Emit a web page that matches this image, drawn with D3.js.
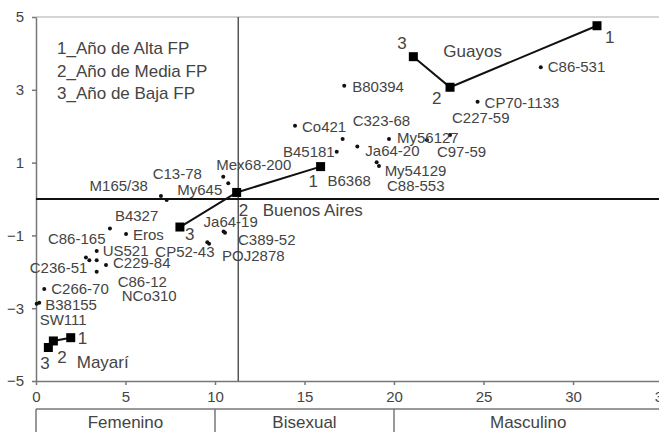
<!DOCTYPE html>
<html>
<head>
<meta charset="utf-8">
<script src="https://cdn.jsdelivr.net/npm/d3@7"></script>
<style>
  html, body { margin: 0; padding: 0; background: #fff; }
  svg { display: block; font-family: "Liberation Sans", Arial, sans-serif; }
</style>
</head>
<body>
<svg id="chart" width="659" height="432"></svg>
<script>
// Cultivars (small dots)
const cultivarNames = ["C86-531","CP70-1133","C227-59","My56127","C97-59","B80394","Co421","C323-68",
  "B45181","Ja64-20","My54129","C88-553","B6368","Mex68-200","My645","M165/38","C13-78","Ja64-19",
  "C389-52","CP52-43","POJ2878","B4327","Eros","C86-165","C236-51","US521","C229-84","C86-12",
  "NCo310","C266-70","B38155","SW111"];
const cultivarX = [28.2,24.67,23.13,19.72,21.84,17.22,14.47,17.13,16.8,17.95,19.03,19.16,15.95,10.46,10.74,
  6.98,7.3,10.48,10.56,9.57,9.67,4.13,5.03,2.79,2.98,3.39,3.91,3.39,3.39,0.46,0.18,0.04];
const cultivarY = [3.62,2.67,1.76,1.65,1.62,3.11,2.01,1.65,1.30,1.44,1.01,0.91,0.88,0.61,0.43,
  0.08,-0.03,-0.89,-0.93,-1.19,-1.23,-0.81,-0.96,-1.61,-1.68,-1.43,-1.81,-2.0,-1.68,-2.47,-2.85,-2.88];

// Locations: years of high (1), medium (2) and low (3) FP
const locationNames = ["Guayos","Buenos Aires","Mayarí"];
const locationX = [[31.34,23.13,21.08],[15.9,11.21,8.04],[1.94,0.97,0.69]];
const locationY = [[4.76,3.07,3.91],[0.89,0.18,-0.77],[-3.81,-3.90,-4.08]];
const yearLabels = ["1","2","3"];

const legendLines = ["1_Año de Alta FP","2_Año de Media FP","3_Año de Baja FP"];
const xTicks = [0,5,10,15,20,25,30,35];
const yTicks = [-5,-3,-1,1,3,5];
const dividerX = 11.3;
const categoryNames = ["Femenino","Bisexual","Masculino"];
const categoryBounds = [0,10,20,35];

// label placement (pixel offsets from the mark, anchor)
const cultivarLabelPos = {
  "C86-531":[7,5,"start"], "CP70-1133":[7,6,"start"], "C227-59":[2,-12,"start"],
  "My56127":[8,4,"start"], "C97-59":[10,17,"start"], "B80394":[8,6,"start"],
  "Co421":[7,6,"start"], "C323-68":[10,-13,"start"], "B45181":[-2,5,"end"],
  "Ja64-20":[8,9,"start"], "My54129":[8,14,"start"], "C88-553":[8,25,"start"],
  "B6368":[6,19,"start"], "Mex68-200":[-7,-7,"start"], "My645":[-6,12,"end"],
  "M165/38":[-13,-5,"end"], "C13-78":[-14,-21,"start"], "Ja64-19":[-20,-4,"start"],
  "C389-52":[13,12,"start"], "CP52-43":[-52,15,"start"], "POJ2878":[13,17,"start"],
  "B4327":[5,-7,"start"], "Eros":[7,6,"start"], "C86-165":[-38,-14,"start"],
  "C236-51":[-2,13,"end"], "US521":[6,5,"start"], "C229-84":[7,3,"start"],
  "C86-12":[21,15,"start"], "NCo310":[25,41,"start"], "C266-70":[7,5,"start"],
  "B38155":[6,7,"start"], "SW111":[3,21,"start"]
};
const yearLabelPos = [
  [[8,17],[-18,17],[-16,-8]],
  [[-12,20],[2,24],[5,13]],
  [[7,6],[4,22],[-8,21]]
];
const locationLabelPos = [[2,30,0],[1,26,24],[0,6,30]]; // [point index, dx, dy]

const svg = d3.select("#chart");
const x = d3.scaleLinear().domain([0,35]).range([36,662.5]);
const y = d3.scaleLinear().domain([-5,5]).range([381,17]);
const textColor = "#444";
const lineGrey = "#777";

// frame: top border
svg.append("line").attr("x1", x(0)).attr("x2", 659).attr("y1", y(5)).attr("y2", y(5))
  .attr("stroke", "#aaa").attr("stroke-width", 1.2);

// bottom axis
const xAxis = svg.append("g").attr("transform", `translate(0,${y(-5)})`)
  .call(d3.axisBottom(x).tickValues(xTicks).tickSize(4).tickSizeOuter(0).tickFormat(d3.format("d")));
xAxis.select(".domain").attr("stroke", lineGrey).attr("stroke-width", 1.5);
xAxis.selectAll(".tick line").attr("stroke", lineGrey).attr("stroke-width", 1.5);
xAxis.selectAll(".tick text").attr("fill", textColor).attr("font-size", 15)
  .attr("font-family", "Liberation Sans, Arial, sans-serif").attr("dy", "0.95em");

// left axis
const yAxis = svg.append("g").attr("transform", `translate(${x(0)},0)`)
  .call(d3.axisLeft(y).tickValues(yTicks).tickSize(4).tickSizeOuter(0).tickFormat(d3.format("d")));
yAxis.select(".domain").attr("stroke", lineGrey).attr("stroke-width", 1.5);
yAxis.selectAll(".tick line").attr("stroke", lineGrey).attr("stroke-width", 1.5);
yAxis.selectAll(".tick text").attr("fill", textColor).attr("font-size", 15)
  .attr("font-family", "Liberation Sans, Arial, sans-serif").attr("x", -12);

// divider lines
svg.append("line").attr("x1", x(dividerX)).attr("x2", x(dividerX)).attr("y1", y(5)).attr("y2", y(-5))
  .attr("stroke", "#555").attr("stroke-width", 1.5);
svg.append("line").attr("x1", x(0)).attr("x2", 659).attr("y1", y(0)).attr("y2", y(0))
  .attr("stroke", "#111").attr("stroke-width", 2);

// category boxes below the axis
const boxTop = 409;
svg.append("line").attr("x1", x(0)).attr("x2", 659).attr("y1", boxTop).attr("y2", boxTop)
  .attr("stroke", lineGrey).attr("stroke-width", 1.5);
categoryBounds.forEach(b => {
  svg.append("line").attr("x1", x(b)).attr("x2", x(b)).attr("y1", boxTop).attr("y2", 432)
    .attr("stroke", lineGrey).attr("stroke-width", 1.5);
});
categoryNames.forEach((c, i) => {
  svg.append("text").attr("x", (x(categoryBounds[i]) + x(categoryBounds[i+1])) / 2)
    .attr("y", 428).attr("text-anchor", "middle").attr("font-size", 17).attr("fill", textColor).text(c);
});

// legend
legendLines.forEach((t, i) => {
  svg.append("text").attr("x", 57).attr("y", 54 + i * 22.5).attr("font-size", 17)
    .attr("fill", textColor).text(t);
});

// cultivar dots and names
const cultivars = cultivarNames.map((n, i) => ({ name: n, x: cultivarX[i], y: cultivarY[i] }));
svg.append("g").selectAll("circle").data(cultivars).join("circle")
  .attr("cx", d => x(d.x)).attr("cy", d => y(d.y)).attr("r", 2).attr("fill", "#111");
svg.append("g").selectAll("text").data(cultivars).join("text")
  .attr("x", d => x(d.x) + cultivarLabelPos[d.name][0])
  .attr("y", d => y(d.y) + cultivarLabelPos[d.name][1])
  .attr("text-anchor", d => cultivarLabelPos[d.name][2])
  .attr("font-size", 15).attr("fill", textColor).text(d => d.name);

// location trajectories
const line = d3.line().x(d => x(d[0])).y(d => y(d[1]));
locationNames.forEach((name, li) => {
  const pts = locationX[li].map((v, k) => [v, locationY[li][k]]);
  const g = svg.append("g");
  g.append("path").attr("d", line(pts)).attr("fill", "none").attr("stroke", "#111").attr("stroke-width", 2);
  g.selectAll("rect").data(pts).join("rect")
    .attr("x", d => x(d[0]) - 4.5).attr("y", d => y(d[1]) - 4.5)
    .attr("width", 9).attr("height", 9).attr("fill", "#000");
  pts.forEach((p, k) => {
    g.append("text").attr("x", x(p[0]) + yearLabelPos[li][k][0]).attr("y", y(p[1]) + yearLabelPos[li][k][1])
      .attr("font-size", 17).attr("fill", textColor).text(yearLabels[k]);
  });
  const lp = locationLabelPos[li];
  g.append("text").attr("x", x(pts[lp[0]][0]) + lp[1]).attr("y", y(pts[lp[0]][1]) + lp[2])
    .attr("font-size", 17).attr("fill", textColor).text(name);
});
</script>
</body>
</html>
